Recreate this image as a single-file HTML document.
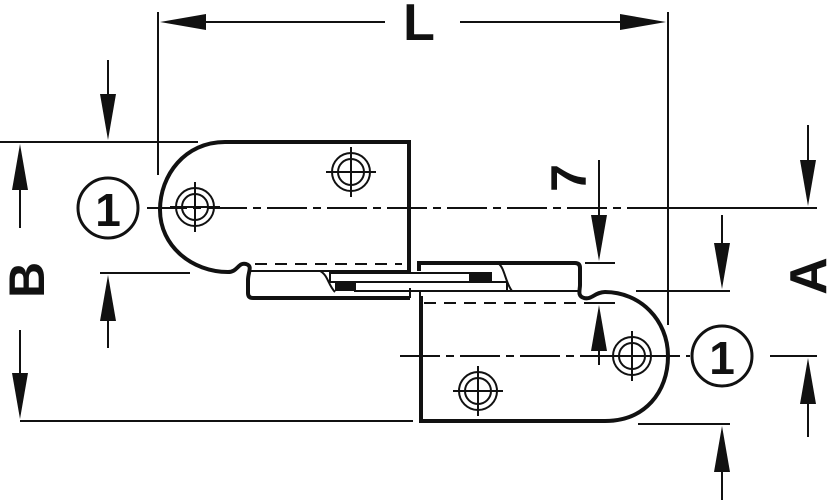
<!DOCTYPE html>
<html><head><style>html,body{margin:0;padding:0;background:#fff}svg{display:block}</style></head>
<body>
<svg width="833" height="500" viewBox="0 0 833 500" xmlns="http://www.w3.org/2000/svg" font-family="Liberation Sans, sans-serif" font-weight="bold">
<g stroke="#111" fill="none" stroke-linecap="butt">
<!-- extension lines -->
<g stroke-width="2">
<line x1="158" y1="12" x2="158" y2="175"/>
<line x1="668" y1="12" x2="668" y2="325"/>
<line x1="0" y1="142" x2="198" y2="142"/>
<line x1="20" y1="421" x2="413" y2="421"/>
<line x1="100" y1="273" x2="190" y2="273"/>
<line x1="585" y1="263" x2="615" y2="263"/>
<line x1="585" y1="303" x2="615" y2="303"/>
<line x1="636" y1="291" x2="730" y2="291"/>
<line x1="638" y1="424" x2="730" y2="424"/>
<line x1="770" y1="356" x2="817" y2="356"/>
<line x1="668" y1="208" x2="817" y2="208"/>
<!-- dim lines -->
<line x1="200" y1="22" x2="385" y2="22"/>
<line x1="460" y1="22" x2="625" y2="22"/>
<line x1="20" y1="180" x2="20" y2="228"/>
<line x1="20" y1="330" x2="20" y2="380"/>
<line x1="108" y1="60" x2="108" y2="100"/>
<line x1="108" y1="315" x2="108" y2="348"/>
<line x1="599" y1="160" x2="599" y2="225"/>
<line x1="599" y1="340" x2="599" y2="365"/>
<line x1="722" y1="215" x2="722" y2="250"/>
<line x1="722" y1="465" x2="722" y2="500"/>
<line x1="808" y1="125" x2="808" y2="165"/>
<line x1="808" y1="398" x2="808" y2="437"/>
</g>
<!-- center lines -->
<g stroke-width="2">
<line x1="147" y1="208" x2="668" y2="208" stroke-dasharray="40,6,8,6"/>
<line x1="400" y1="356" x2="690" y2="356" stroke-dasharray="40,6,8,6"/>
</g>
<!-- dashed hidden lines -->
<g stroke-width="2" stroke-dasharray="12,8">
<line x1="255" y1="264" x2="402" y2="264"/>
<line x1="424" y1="303" x2="595" y2="303"/>
</g>
<!-- upper leaf -->
<path stroke-width="4" d="M409,272 L409,142 L225,142 C185,142 160,175 160,210 C160,246 192,272 228,272 C238,272 238,262 246,264 C253,266 248,272 248,280 L248,293 Q248,298 253,298 L410,298"/>
<!-- lower leaf -->
<path stroke-width="4" d="M421,296 L421,421 L605,421 C645,421 668,392 668,356 C668,320 640,292 605,292 C595,292 592,300 584,298 C577,296 580,290 580,285 L580,268 Q580,263 575,263 L419,263 L419,271"/>
<!-- middle mechanism -->
<g stroke-width="2">
<line x1="250" y1="271" x2="410" y2="271"/>
<line x1="420" y1="291" x2="578" y2="291"/>
<rect x="330" y="273" width="140" height="9"/>
<rect x="355" y="282" width="152" height="9"/>
<path d="M320,271 C328,275 328,285 335,292"/>
<path d="M498,263 C505,268 505,282 512,291"/>
<line x1="410" y1="298" x2="410" y2="288"/>
<line x1="420" y1="291" x2="420" y2="300"/>
</g>
<rect x="335" y="283" width="20" height="8" fill="#111" stroke="none"/>
<rect x="470" y="272" width="22" height="9" fill="#111" stroke="none"/>
<!-- holes -->
<g stroke-width="2">
<circle cx="195" cy="207" r="19"/><circle cx="195" cy="207" r="13"/>
<line x1="170" y1="207" x2="220" y2="207"/><line x1="195" y1="182" x2="195" y2="232"/>
<circle cx="351" cy="172" r="19"/><circle cx="351" cy="172" r="13"/>
<line x1="326" y1="172" x2="376" y2="172"/><line x1="351" y1="147" x2="351" y2="197"/>
<circle cx="632" cy="356" r="19"/><circle cx="632" cy="356" r="13"/>
<line x1="607" y1="356" x2="657" y2="356"/><line x1="632" y1="331" x2="632" y2="381"/>
<circle cx="478" cy="391" r="19"/><circle cx="478" cy="391" r="13"/>
<line x1="453" y1="391" x2="503" y2="391"/><line x1="478" y1="366" x2="478" y2="416"/>
</g>
<!-- callout circles -->
<circle cx="108" cy="208" r="30" stroke-width="3"/>
<circle cx="722" cy="356" r="30" stroke-width="3"/>
</g>
<!-- arrowheads -->
<g fill="#111">
<polygon points="160,22 206,14 206,30"/>
<polygon points="666,22 620,14 620,30"/>
<polygon points="20,144 12,190 28,190"/>
<polygon points="20,419 12,373 28,373"/>
<polygon points="108,140 100,94 116,94"/>
<polygon points="108,275 100,321 116,321"/>
<polygon points="599,261 591,215 607,215"/>
<polygon points="599,305 591,351 607,351"/>
<polygon points="722,289 714,243 730,243"/>
<polygon points="722,426 714,472 730,472"/>
<polygon points="808,206 800,160 816,160"/>
<polygon points="808,358 800,404 816,404"/>
</g>
<!-- text -->
<g fill="#111">
<text x="419" y="40" font-size="52" text-anchor="middle">L</text>
<text x="108" y="226" font-size="46" text-anchor="middle">1</text>
<text x="722" y="374" font-size="46" text-anchor="middle">1</text>
<text transform="translate(44,280) rotate(-90)" font-size="50" text-anchor="middle">B</text>
<text transform="translate(586,178) rotate(-90)" font-size="50" text-anchor="middle">7</text>
<text transform="translate(826,276) rotate(-90)" font-size="52" text-anchor="middle">A</text>
</g>
</svg>
</body></html>
